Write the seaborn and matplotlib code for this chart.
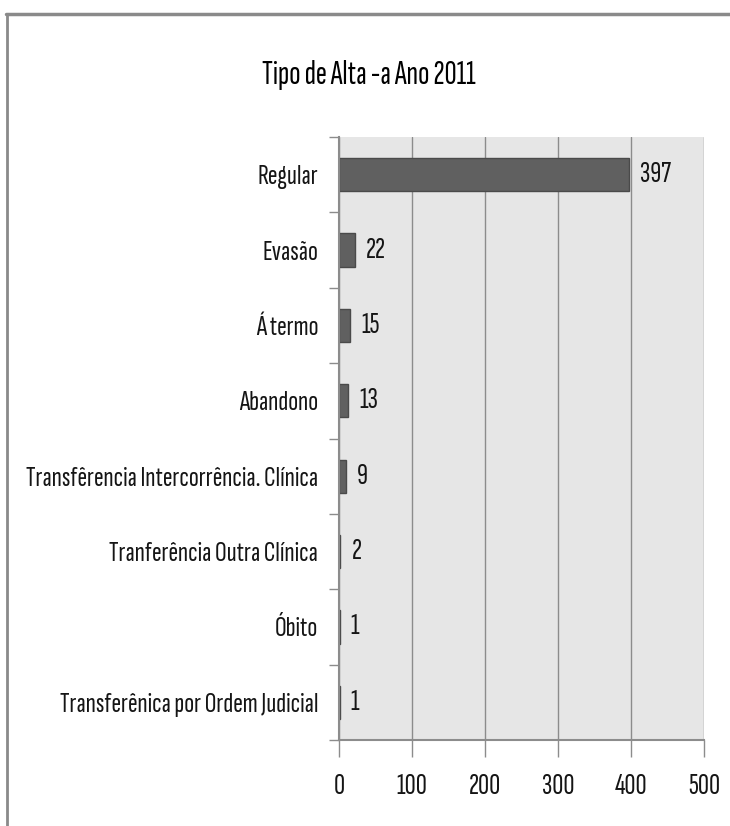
import matplotlib
matplotlib.use("Agg")
import matplotlib.pyplot as plt
from matplotlib.lines import Line2D
import numpy as np
import pandas as pd
import seaborn as sns

categories = [
    "Regular",
    "Evasão",
    "Á termo",
    "Abandono",
    "Transfêrencia Intercorrência. Clínica",
    "Tranferência Outra Clínica",
    "Óbito",
    "Transferênica por Ordem Judicial",
]
values = [397, 22, 15, 13, 9, 2, 1, 1]
x_ticks = [0, 100, 200, 300, 400, 500]
title = "Tipo de Alta -a Ano 2011"

df = pd.DataFrame({"tipo": categories, "n": values})

sns.set_theme(style="white")
plt.rcParams["font.family"] = ["Sofia Sans Extra Condensed", "DejaVu Sans"]
TEXT = "#151515"

fig = plt.figure(figsize=(7.30, 8.26), dpi=100)
ax = fig.add_axes([339 / 730, 1 - 740 / 826, 365 / 730, 603 / 826])
ax.set_facecolor("#e6e6e6")

sns.barplot(data=df, y="tipo", x="n", orient="h", ax=ax, width=0.44,
            color="#606060", edgecolor="#4a4a4a", linewidth=1, saturation=1)

ax.set_xlim(0, 500)
ax.set_ylim(len(categories) - 0.5, -0.5)
ax.set_xticks(x_ticks)
ax.set_xticklabels([str(t) for t in x_ticks], fontsize=22, color=TEXT)
ax.tick_params(axis="x", length=12, width=1, color="#8c8c8c", pad=12,
               direction="out", bottom=True)
ax.xaxis.grid(True, color="#8c8c8c", linewidth=1)
ax.set_axisbelow(True)

ax.set_yticks(range(len(categories)))
ax.set_yticklabels(categories, fontsize=21, color=TEXT)
ax.tick_params(axis="y", length=0, pad=15)
ax.set_yticks(np.arange(-0.5, len(categories), 1), minor=True)
ax.tick_params(axis="y", which="minor", length=7, width=1, color="#8c8c8c",
               direction="out", left=True)

ax.set_xlabel("")
ax.set_ylabel("")
for s in ["top", "right"]:
    ax.spines[s].set_visible(False)
for s in ["left", "bottom"]:
    ax.spines[s].set_color("#8c8c8c")
    ax.spines[s].set_linewidth(1.5)

ax.bar_label(ax.containers[0], labels=[str(v) for v in values],
             padding=8, fontsize=22, color=TEXT)

fig.text(0.505, 1 - 75 / 826, title, ha="center", va="center",
         fontsize=24, fontweight="bold", color="#000000")

# outer frame lines (top and left)
fig.add_artist(Line2D([6 / 730, 1], [1 - 14 / 826, 1 - 14 / 826],
                      transform=fig.transFigure, color="#8a8a8a", linewidth=2.5))
fig.add_artist(Line2D([7 / 730, 7 / 730], [0, 1 - 14 / 826],
                      transform=fig.transFigure, color="#8a8a8a", linewidth=2))

fig.savefig("out.png", dpi=100)
